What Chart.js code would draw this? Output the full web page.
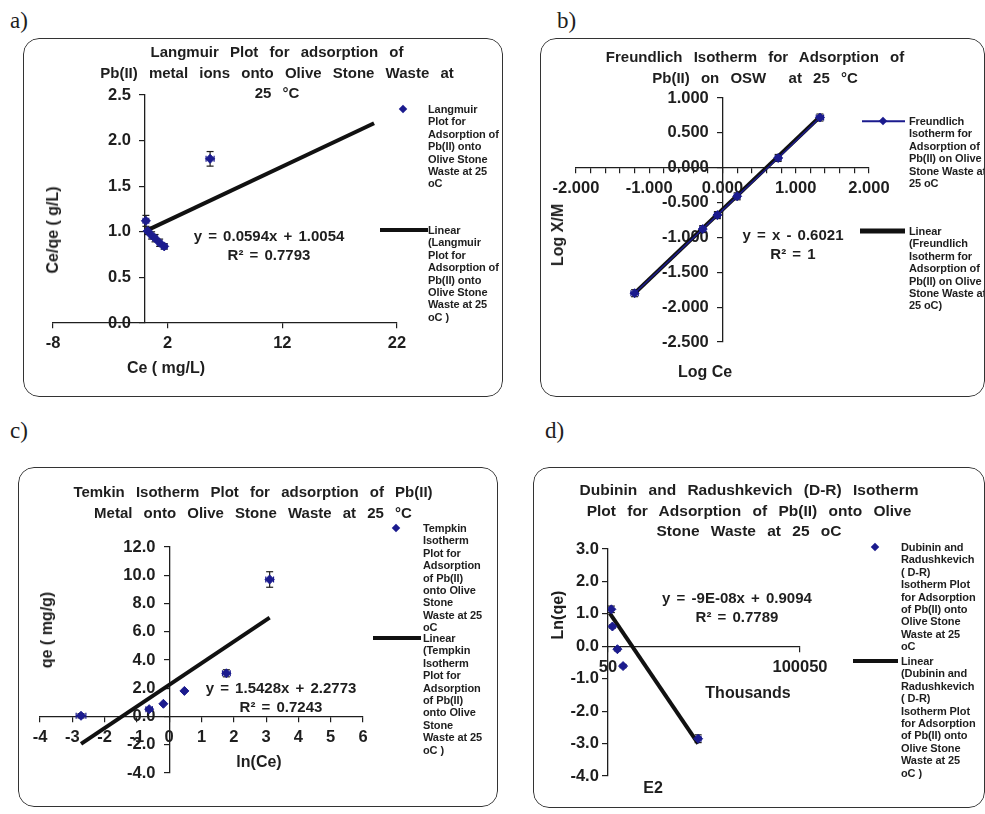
<!DOCTYPE html>
<html>
<head>
<meta charset="utf-8">
<script src="https://cdn.jsdelivr.net/npm/chart.js@4.4.0/dist/chart.umd.min.js"></script>
<style>
  body { margin: 0; background: #fff; width: 985px; height: 814px; position: relative; overflow: hidden;
         font-family: "Liberation Sans", Arial, sans-serif; color: #1e1e1e; }
  .tag { position: absolute; font-family: "Liberation Serif", "Times New Roman", serif; font-size: 23px; }
  .box { position: absolute; overflow: hidden; border-radius: 16px; background: #fff; }
  .box::after { content: ""; position: absolute; inset: 0; border: 1.5px solid #333; border-radius: 16px; pointer-events: none; }
  .box canvas { position: absolute; left: 0; top: 0; }
  .title { position: absolute; transform: translateX(-50%); text-align: center; white-space: nowrap;
           font-weight: bold; font-size: 15px; line-height: 20.5px; word-spacing: 7px; }
  .eq { position: absolute; transform: translateX(-50%); text-align: center; white-space: nowrap;
        font-weight: bold; font-size: 15px; line-height: 19px; word-spacing: 2px; }
  .axt { position: absolute; transform: translate(-50%, -50%); white-space: nowrap; font-weight: bold; font-size: 16px; }
  .axt.rot { transform: translate(-50%, -50%) rotate(-90deg); }
  .leg { position: absolute; white-space: nowrap; font-weight: bold; font-size: 11px; line-height: 12.4px; letter-spacing: -0.1px; }
  .dia { position: absolute; width: 6px; height: 6px; background: #1b1b8e; transform: translate(-50%, -50%) rotate(45deg); }
  .ln { position: absolute; height: 4px; background: #111; transform: translateY(-50%); }
  .ln.thin { height: 1.5px; background: #1b1b8e; }
</style>
</head>
<body>

<div class="tag" style="left:10px;top:8px">a)</div>
<div class="tag" style="left:557px;top:8px">b)</div>
<div class="tag" style="left:10px;top:418px">c)</div>
<div class="tag" style="left:545px;top:418px">d)</div>

<!-- a) Langmuir -->
<div class="box" style="left:23px;top:38px;width:480px;height:359px">
  <canvas id="chartA" width="480" height="359"></canvas>
  <div class="title" style="left:254px;top:4px">Langmuir Plot for adsorption of<br>Pb(II) metal ions onto Olive Stone Waste at<br>25 °C</div>
  <div class="eq" style="left:246px;top:188px">y = 0.0594x + 1.0054<br>R² = 0.7793</div>
  <div class="axt rot" style="left:30px;top:192px">Ce/qe ( g/L)</div>
  <div class="axt" style="left:143px;top:330px">Ce ( mg/L)</div>
  <div class="dia" style="left:380px;top:71px"></div>
  <div class="leg" style="left:405px;top:65px">Langmuir<br>Plot for<br>Adsorption of<br>Pb(II) onto<br>Olive Stone<br>Waste at 25<br>oC</div>
  <div class="ln" style="left:357px;width:48px;top:192px"></div>
  <div class="leg" style="left:405px;top:186px">Linear<br>(Langmuir<br>Plot for<br>Adsorption of<br>Pb(II) onto<br>Olive Stone<br>Waste at 25<br>oC )</div>
</div>

<!-- b) Freundlich -->
<div class="box" style="left:540px;top:38px;width:445px;height:359px">
  <canvas id="chartB" width="445" height="359"></canvas>
  <div class="title" style="left:215px;top:9px">Freundlich Isotherm for Adsorption of<br>Pb(II) on OSW &nbsp;at 25 °C</div>
  <div class="eq" style="left:253px;top:187px">y = x - 0.6021<br>R² = 1</div>
  <div class="axt rot" style="left:18px;top:197px">Log X/M</div>
  <div class="axt" style="left:165px;top:334px">Log Ce</div>
  <div class="ln thin" style="left:322px;width:43px;top:83px"></div>
  <div class="dia" style="left:343px;top:83px"></div>
  <div class="leg" style="left:369px;top:77px">Freundlich<br>Isotherm for<br>Adsorption of<br>Pb(II) on Olive<br>Stone Waste at<br>25 oC</div>
  <div class="ln" style="left:320px;width:45px;top:193px;height:5px"></div>
  <div class="leg" style="left:369px;top:187px">Linear<br>(Freundlich<br>Isotherm for<br>Adsorption of<br>Pb(II) on Olive<br>Stone Waste at<br>25 oC)</div>
</div>

<!-- c) Temkin -->
<div class="box" style="left:18px;top:467px;width:480px;height:340px">
  <canvas id="chartC" width="480" height="340"></canvas>
  <div class="title" style="left:235px;top:15px">Temkin Isotherm Plot for adsorption of Pb(II)<br>Metal onto Olive Stone Waste at 25 °C</div>
  <div class="eq" style="left:263px;top:211px">y = 1.5428x + 2.2773<br>R² = 0.7243</div>
  <div class="axt rot" style="left:29px;top:163px">qe ( mg/g)</div>
  <div class="axt" style="left:241px;top:295px">ln(Ce)</div>
  <div class="dia" style="left:378px;top:61px"></div>
  <div class="leg" style="left:405px;top:55px">Tempkin<br>Isotherm<br>Plot for<br>Adsorption<br>of Pb(II)<br>onto Olive<br>Stone<br>Waste at 25<br>oC</div>
  <div class="ln" style="left:355px;width:48px;top:171px"></div>
  <div class="leg" style="left:405px;top:165px">Linear<br>(Tempkin<br>Isotherm<br>Plot for<br>Adsorption<br>of Pb(II)<br>onto Olive<br>Stone<br>Waste at 25<br>oC )</div>
</div>

<!-- d) D-R -->
<div class="box" style="left:533px;top:467px;width:452px;height:341px">
  <canvas id="chartD" width="452" height="341"></canvas>
  <div class="title" style="left:216px;top:13px;font-size:15.5px">Dubinin and Radushkevich (D-R) Isotherm<br>Plot for Adsorption of Pb(II) onto Olive<br>Stone Waste at 25 oC</div>
  <div class="eq" style="left:204px;top:121px">y = -9E-08x + 0.9094<br>R² = 0.7789</div>
  <div class="axt rot" style="left:25px;top:148px">Ln(qe)</div>
  <div class="axt" style="left:215px;top:226px">Thousands</div>
  <div class="axt" style="left:120px;top:321px">E2</div>
  <div class="dia" style="left:342px;top:80px"></div>
  <div class="leg" style="left:368px;top:74px">Dubinin and<br>Radushkevich<br>( D-R)<br>Isotherm Plot<br>for Adsorption<br>of Pb(II) onto<br>Olive Stone<br>Waste at 25<br>oC</div>
  <div class="ln" style="left:320px;width:45px;top:194px"></div>
  <div class="leg" style="left:368px;top:188px">Linear<br>(Dubinin and<br>Radushkevich<br>( D-R)<br>Isotherm Plot<br>for Adsorption<br>of Pb(II) onto<br>Olive Stone<br>Waste at 25<br>oC )</div>
</div>

<script>
// a) Langmuir: Ce (mg/L) vs Ce/qe (g/L)
const A_X  = [0.1, 0.25, 0.6, 0.9, 1.3, 1.7, 5.7];
const A_Y  = [1.12, 1.01, 0.96, 0.93, 0.88, 0.84, 1.80];
const A_EY = [0.06, 0.04, 0.04, 0.04, 0.04, 0.03, 0.08];
const A_EX = [0.25, 0.2, 0.2, 0.2, 0.2, 0.25, 0.35];
const A_TREND_X = [0.1, 20];
const A_TREND_Y = [1.01, 2.19];
const A_XTICKS = [-8, 2, 12, 22];
const A_YTICKS = [0, 0.5, 1, 1.5, 2, 2.5];

// b) Freundlich: log Ce vs log X/M
const B_X  = [-1.2, -0.27, -0.07, 0.20, 0.76, 1.33];
const B_Y  = [-1.80, -0.88, -0.68, -0.41, 0.14, 0.72];
const B_EY = [0.05, 0.05, 0.05, 0.05, 0.05, 0.05];
const B_EX = [0.05, 0.04, 0.04, 0.04, 0.04, 0.05];
const B_TREND_X = [-1.2, 1.33];
const B_TREND_Y = [-1.80, 0.73];
const B_XTICKS = [-2, -1.8, -1.6, -1.4, -1.2, -1, -0.8, -0.6, -0.4, -0.2, 0,
                  0.2, 0.4, 0.6, 0.8, 1, 1.2, 1.4, 1.6, 1.8, 2];
const B_YTICKS = [-2.5, -2, -1.5, -1, -0.5, 0, 0.5, 1];

// c) Temkin: ln(Ce) vs qe (mg/g)
const C_X  = [-2.73, -0.62, -0.18, 0.47, 1.77, 3.11];
const C_Y  = [0.05, 0.52, 0.90, 1.81, 3.06, 9.70];
const C_EY = [0.15, 0.1, 0, 0, 0.25, 0.55];
const C_EX = [0.15, 0.1, 0, 0, 0.12, 0.12];
const C_TREND_X = [-2.73, 3.11];
const C_TREND_Y = [-1.94, 7.0];
const C_XTICKS = [-4, -3, -2, -1, 0, 1, 2, 3, 4, 5, 6];
const C_YTICKS = [-4, -2, 0, 2, 4, 6, 8, 10, 12];

// d) Dubinin-Radushkevich: E2 (thousands) vs Ln(qe)
const D_X  = [1800, 2350, 4950, 7900, 47000];
const D_Y  = [1.14, 0.61, -0.09, -0.61, -2.85];
const D_EY = [0.1, 0.05, 0.05, 0.05, 0.12];
const D_EX = [500, 300, 300, 300, 1500];
const D_TREND_X = [940, 47000];
const D_TREND_Y = [1.02, -3.0];
const D_XTICKS = [50, 100050];
const D_YTICKS = [-4, -3, -2, -1, 0, 1, 2, 3];

const NAVY = "#1b1b8e";
const INK = "#1e1e1e";
const FONT = "'Liberation Sans', Arial, sans-serif";

// draws x/y error bars for the first dataset, under the markers
const errorBars = {
    id: "errorBars",
    beforeDatasetsDraw(chart, args, opts) {
        const { ctx, scales: { x, y } } = chart;
        const pts = chart.data.datasets[0].data;
        ctx.save();
        ctx.strokeStyle = INK;
        ctx.lineWidth = 1.2;
        const seg = (x1, y1, x2, y2) => {
            ctx.beginPath(); ctx.moveTo(x1, y1); ctx.lineTo(x2, y2); ctx.stroke();
        };
        pts.forEach((p, i) => {
            const px = x.getPixelForValue(p.x);
            const py = y.getPixelForValue(p.y);
            const ey = opts.ey[i] || 0;
            const ex = opts.ex[i] || 0;
            if (ey) {
                const t = y.getPixelForValue(p.y + ey);
                const b = y.getPixelForValue(p.y - ey);
                seg(px, t, px, b);
                seg(px - 3.5, t, px + 3.5, t);
                seg(px - 3.5, b, px + 3.5, b);
            }
            if (ex) {
                const l = x.getPixelForValue(p.x - ex);
                const r = x.getPixelForValue(p.x + ex);
                ctx.strokeStyle = NAVY;
                seg(l, py, r, py);
                seg(l, py - 3, l, py + 3);
                seg(r, py - 3, r, py + 3);
                ctx.strokeStyle = INK;
            }
        });
        ctx.restore();
    }
};

function pairs(xs, ys) {
    return xs.map((v, i) => ({ x: v, y: ys[i] }));
}

function makeAxis(ticks, fmt, position) {
    return {
        type: "linear",
        position,
        min: ticks[0],
        max: ticks[ticks.length - 1],
        afterBuildTicks: s => { s.ticks = ticks.map(v => ({ value: v })); },
        // centred axes should not eat into the plot area
        afterFit: s => { if (s.isHorizontal()) s.height = 0; else s.width = 0; },
        grid: { drawOnChartArea: false, drawTicks: true, tickLength: 5, color: INK, lineWidth: 1.2 },
        border: { display: true, color: INK, width: 1.3 },
        ticks: {
            autoSkip: false, maxRotation: 0, padding: 6, color: INK,
            font: { family: FONT, size: 16.5, weight: "bold" },
            callback: fmt
        }
    };
}

function makePanel(id, d) {
    return new Chart(document.getElementById(id), {
        type: "scatter",
        data: {
            datasets: [
                {
                    label: "data",
                    data: pairs(d.x, d.y),
                    showLine: !!d.joined,
                    borderColor: NAVY,
                    borderWidth: 1.5,
                    backgroundColor: NAVY,
                    pointStyle: "rectRot",
                    pointRadius: 4.5,
                    pointBorderWidth: 1
                },
                {
                    label: "Linear",
                    type: "line",
                    data: pairs(d.tx, d.ty),
                    borderColor: "#111",
                    borderWidth: 4,
                    pointRadius: 0,
                    fill: false
                }
            ]
        },
        options: {
            responsive: false,
            animation: false,
            layout: { padding: d.pad },
            plugins: {
                legend: { display: false },
                title: { display: false },
                tooltip: { enabled: false },
                errorBars: { ey: d.ey, ex: d.ex }
            },
            scales: {
                x: makeAxis(d.xticks, d.xfmt, d.xpos),
                y: makeAxis(d.yticks, d.yfmt, d.ypos)
            }
        },
        plugins: [errorBars]
    });
}

// y labels sit right against a centred axis, trailing spaces give the gap
const GAP3 = "   ";
const GAP2 = "  ";

makePanel("chartA", {
    x: A_X, y: A_Y, ey: A_EY, ex: A_EX, tx: A_TREND_X, ty: A_TREND_Y,
    xticks: A_XTICKS, yticks: A_YTICKS,
    xfmt: v => String(v), yfmt: v => v.toFixed(1) + GAP3,
    xpos: { y: 0 }, ypos: { x: 0 },
    pad: { left: 30, top: 57, right: 106, bottom: 74 }
});

makePanel("chartB", {
    x: B_X, y: B_Y, ey: B_EY, ex: B_EX, tx: B_TREND_X, ty: B_TREND_Y, joined: true,
    xticks: B_XTICKS, yticks: B_YTICKS,
    xfmt: v => Math.abs(v - Math.round(v)) < 1e-6 ? v.toFixed(3) : "",
    yfmt: v => v.toFixed(3) + GAP3,
    xpos: { y: 0 }, ypos: { x: 0 },
    pad: { left: 36, top: 60, right: 116, bottom: 55 }
});

makePanel("chartC", {
    x: C_X, y: C_Y, ey: C_EY, ex: C_EX, tx: C_TREND_X, ty: C_TREND_Y,
    xticks: C_XTICKS, yticks: C_YTICKS,
    xfmt: v => String(v), yfmt: v => v.toFixed(1) + GAP3,
    xpos: { y: 0 }, ypos: { x: 0 },
    pad: { left: 22, top: 80, right: 135, bottom: 34 }
});

makePanel("chartD", {
    x: D_X, y: D_Y, ey: D_EY, ex: D_EX, tx: D_TREND_X, ty: D_TREND_Y,
    xticks: D_XTICKS, yticks: D_YTICKS,
    xfmt: v => String(v), yfmt: v => v.toFixed(1) + GAP2,
    xpos: { y: 0 }, ypos: { x: 50 },
    pad: { left: 75, top: 82, right: 185, bottom: 32 }
});
</script>
</body>
</html>
